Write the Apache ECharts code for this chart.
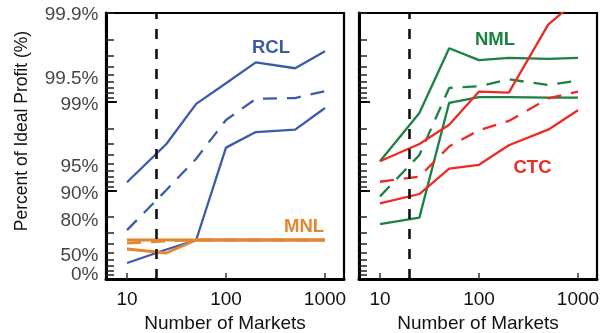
<!DOCTYPE html>
<html><head><meta charset="utf-8">
<script src="https://cdn.jsdelivr.net/npm/echarts@6/dist/echarts.min.js"></script>
<style>html,body{margin:0;padding:0;background:#fff}#c{width:600px;height:333px}</style>
</head><body><div id="c"></div>
<script>
// ---- data (percent of ideal profit) ----
const markets = [10, 25, 50, 100, 200, 500, 1000];
const rclUpper  = [91.9, 97.0, 98.94, 99.38, 99.64, 99.58, 99.73];
const rclMedian = [71.9, 90.1, 95.6, 98.39, 99.07, 99.09, 99.24];
const rclLower  = [34.0, 53.5, 63.7, 96.7, 97.8, 97.93, 98.82];
const mnlUpper  = [63.7, 63.7, 63.7, 63.7, 63.7, 63.7, 63.7];
const mnlMedian = [60.6, 62.8, 63.7, 63.7, 63.7, 63.7, 63.7];
const mnlLower  = [54.1, 49.1, 63.7, 63.7, 63.7, 63.7, 63.7];
const nmlUpper  = [95.3, 98.66, 99.75, 99.66, 99.68, 99.67, 99.68];
const nmlMedian = [88.3, 96.0, 99.30, 99.33, 99.44, 99.35, 99.42];
const nmlLower  = [75.9, 79.7, 98.97, 99.11, 99.11, 99.10, 99.10];
const ctcUpper  = [95.3, 97.0, 98.18, 99.23, 99.21, 99.865, 99.93];
const ctcMedian = [92.0, 93.0, 96.8, 97.9, 98.35, 99.08, 99.23];
const ctcLower  = [86.0, 89.0, 94.3, 94.85, 96.9, 97.93, 98.75];
const refMarkets = 20;
const xTickValues = [10, 100, 1000];
const yLabelPcts = [0, 50, 80, 90, 95, 99, 99.5, 99.9];
const yLabelTexts = ['0%', '50%', '80%', '90%', '95%', '99%', '99.5%', '99.9%'];
const yTickPcts = [10, 20, 30, 40, 50, 60, 70, 80, 90, 91, 92, 93, 94, 95, 96, 97, 98, 99,
                   99.1, 99.2, 99.3, 99.4, 99.5, 99.6, 99.7, 99.8, 99.9];
const yMajorPcts = [90, 99];

// ---- transforms ----
const T = p => Math.round(-Math.log10(1 - p / 100) * 1e9) / 1e9;
const LX = n => Math.log10(n);
const pts = arr => arr.map((p, i) => [LX(markets[i]), T(p)]);
const X_MIN = 0.788, X_MAX = 3.192;

const C = { rcl: '#3b5ba9', mnl: '#e3862f', nml: '#1a8242', ctc: '#ee2a24' };
const FONT = 'Liberation Sans, Arial, Helvetica, sans-serif';

function xAxisFor(gi) {
  return {
    type: 'value', gridIndex: gi, min: X_MIN, max: X_MAX,
    name: 'Number of Markets', nameLocation: 'middle', nameGap: 26,
    nameTextStyle: { fontFamily: FONT, fontSize: 19, color: '#111' },
    axisLine: { show: true, onZero: false, lineStyle: { color: '#000', width: 3 } },
    axisTick: { show: true, inside: true, length: 6, customValues: xTickValues.map(LX), lineStyle: { color: '#333', width: 1.5 } },
    axisLabel: { customValues: xTickValues.map(LX), margin: 11, fontFamily: FONT, fontSize: 19, color: '#111',
      formatter: v => String(Math.round(Math.pow(10, v))) },
    splitLine: { show: false }
  };
}
function yAxesFor(gi) {
  return [{
    type: 'value', gridIndex: gi, min: 0, max: 3, position: 'left',
    axisLine: { show: true, onZero: false, lineStyle: { color: '#000', width: 3 } },
    axisTick: { show: true, inside: true, length: 8, customValues: yTickPcts.map(T), lineStyle: { color: '#222', width: 1.5 } },
    axisLabel: { show: false },
    splitLine: { show: false }
  }, {
    type: 'value', gridIndex: gi, min: 0, max: 3, position: 'left',
    axisLine: { show: false, onZero: false },
    axisTick: { show: true, inside: true, length: 11, customValues: yMajorPcts.map(T), lineStyle: { color: '#000', width: 1.8 } },
    axisLabel: { show: false }, splitLine: { show: false }
  }];
}
function line(name, arr, color, gi, dashed, width) {
  return {
    name, type: 'line', xAxisIndex: gi, yAxisIndex: gi * 2, data: pts(arr),
    symbol: 'none', clip: true, silent: true, z: 3,
    lineStyle: { color, width: width || 2.3, type: dashed ? [14, 10] : 'solid' }
  };
}
const refLine = gi => ({
  type: 'line', xAxisIndex: gi, yAxisIndex: gi * 2, data: [], silent: true,
  markLine: { symbol: 'none', silent: true, label: { show: false }, animation: false,
    lineStyle: { color: '#111', width: 2.6, type: [10, 10] },
    data: [{ xAxis: LX(refMarkets) }] }
});
// y tick labels of the left panel, placed through the y scale
const yLabelSeries = {
  type: 'scatter', xAxisIndex: 0, yAxisIndex: 0, silent: true, clip: false, z: 5,
  symbol: 'circle', symbolSize: 1, itemStyle: { color: 'rgba(255,255,255,0)' },
  data: yLabelPcts.map((p, i) => ({
    value: [X_MIN, T(p)], name: yLabelTexts[i],
    label: { offset: [0, i === 0 ? -4 : (i === yLabelPcts.length - 1 ? 2 : 3.5)] }
  })),
  label: { show: true, position: 'left', distance: 7, formatter: '{b}',
    fontFamily: FONT, fontSize: 19, color: '#111' }
};

const yl = yAxesFor(0), yr = yAxesFor(1);
const gridBase = { top: 13, width: 238, height: 266, show: true, borderColor: '#000', borderWidth: 2.2,
  backgroundColor: 'transparent', containLabel: false, outerBoundsMode: 'none' };
const option = {
  animation: false,
  grid: [Object.assign({ left: 106 }, gridBase), Object.assign({ left: 359 }, gridBase)],
  xAxis: [xAxisFor(0), xAxisFor(1)],
  yAxis: [yl[0], yl[1], yr[0], yr[1]],
  series: [
    refLine(0), refLine(1),
    line('RCL upper', rclUpper, C.rcl, 0, false),
    line('RCL median', rclMedian, C.rcl, 0, true),
    line('RCL lower', rclLower, C.rcl, 0, false),
    line('MNL upper', mnlUpper, C.mnl, 0, false, 2.8),
    line('MNL median', mnlMedian, C.mnl, 0, true, 2.8),
    line('MNL lower', mnlLower, C.mnl, 0, false, 2.8),
    line('NML upper', nmlUpper, C.nml, 1, false),
    line('NML median', nmlMedian, C.nml, 1, true),
    line('NML lower', nmlLower, C.nml, 1, false),
    line('CTC upper', ctcUpper, C.ctc, 1, false),
    line('CTC median', ctcMedian, C.ctc, 1, true),
    line('CTC lower', ctcLower, C.ctc, 1, false),
    yLabelSeries
  ],
  graphic: [
    { type: 'text', x: 22, y: 131, rotation: Math.PI / 2,
      style: { text: 'Percent of Ideal Profit (%)', font: '17.5px ' + FONT, fill: '#111', align: 'center', verticalAlign: 'middle' } },
    { type: 'text', x: 271, y: 47.5, style: { text: 'RCL', font: 'bold 18.5px ' + FONT, fill: C.rcl, align: 'center', verticalAlign: 'middle' } },
    { type: 'text', x: 304, y: 226.5, style: { text: 'MNL', font: 'bold 18.5px ' + FONT, fill: C.mnl, align: 'center', verticalAlign: 'middle' } },
    { type: 'text', x: 495, y: 40, style: { text: 'NML', font: 'bold 18.5px ' + FONT, fill: C.nml, align: 'center', verticalAlign: 'middle' } },
    { type: 'text', x: 532.5, y: 167.5, style: { text: 'CTC', font: 'bold 18.5px ' + FONT, fill: C.ctc, align: 'center', verticalAlign: 'middle' } }
  ]
};
const chart = echarts.init(document.getElementById('c'), null, { renderer: 'canvas' });
chart.setOption(option);
</script></body></html>
